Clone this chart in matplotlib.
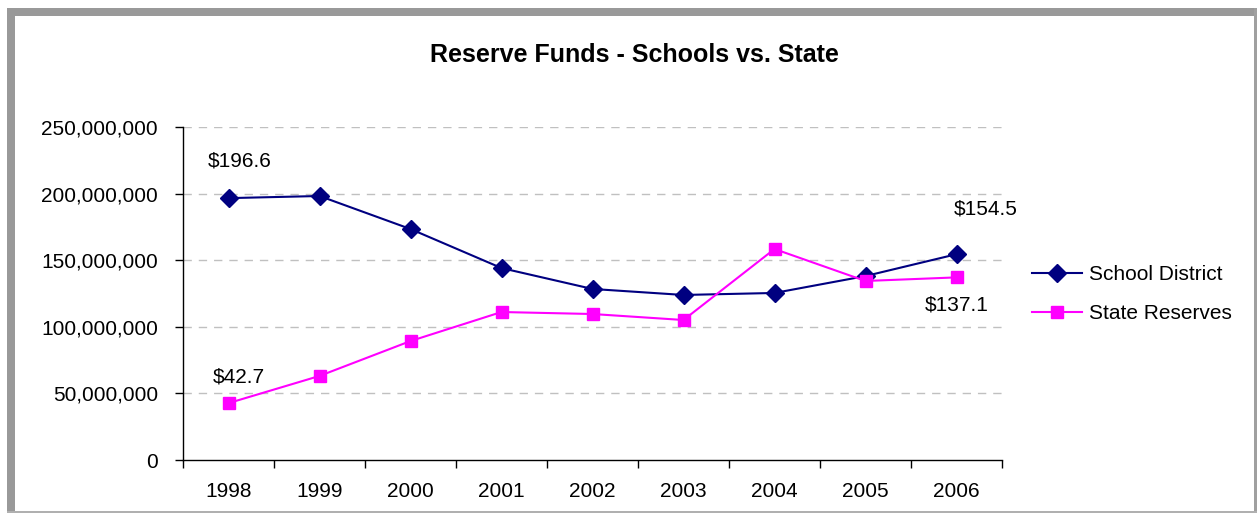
import matplotlib
matplotlib.use("Agg")
import matplotlib.pyplot as plt
from matplotlib.patches import Rectangle
from matplotlib.ticker import FuncFormatter, MultipleLocator

plt.rcParams['font.family'] = ['Liberation Sans', 'DejaVu Sans']

years = ['1998', '1999', '2000', '2001', '2002', '2003', '2004', '2005', '2006']
school_district = [196.6, 198.2, 173.4, 144.1, 128.4, 123.9, 125.4, 138.1, 154.5]  # $ millions
state_reserves = [42.7, 63.1, 89.3, 111.1, 109.6, 105.1, 158.4, 134.4, 137.1]      # $ millions

W, H = 1257, 513
fig = plt.figure(figsize=(W / 100, H / 100), dpi=100)
fig.patch.set_facecolor('white')

# outer frame: heavy top/left edge, thin right/bottom edge
def px_rect(x0, y0, x1, y1, color):
    fig.patches.append(Rectangle((x0 / W, 1 - y1 / H), (x1 - x0) / W, (y1 - y0) / H,
                                 transform=fig.transFigure, facecolor=color,
                                 edgecolor='none', zorder=0))

px_rect(7, 8, 1257, 16, '#999999')
px_rect(7, 8, 15, 513, '#999999')
px_rect(1254, 8, 1257, 513, '#a0a0a0')
px_rect(7, 511, 1257, 513, '#b0b0b0')

ax = fig.add_axes([183 / W, 1 - 460 / H, (1002 - 183) / W, (460 - 127) / H])

x = list(range(len(years)))
sd = [v * 1e6 for v in school_district]
sr = [v * 1e6 for v in state_reserves]

ax.plot(x, sd, color='#000080', lw=1.5, marker='D', ms=9, label='School District', zorder=3)
ax.plot(x, sr, color='#ff00ff', lw=1.5, marker='s', ms=8, label='State Reserves', zorder=3)

FS = 15
ax.set_xlim(-0.5, len(years) - 0.5)
ax.set_ylim(0, 250e6)
ax.yaxis.set_major_locator(MultipleLocator(50e6))
ax.yaxis.set_major_formatter(FuncFormatter(lambda v, p: f"{int(round(v)):,}"))
ax.set_xticks(x)
ax.set_xticklabels(years)
ax.tick_params(axis='x', which='major', length=0, pad=16, labelsize=FS)
ax.set_xticks([i - 0.5 for i in range(len(years) + 1)], minor=True)
ax.tick_params(axis='x', which='minor', length=6, width=1, direction='out')
ax.tick_params(axis='y', length=6, width=1, direction='out', pad=12, labelsize=FS)

for v in range(50, 251, 50):
    ax.axhline(v * 1e6, color='#c0c0c0', lw=1, ls=(0, (6, 5)), zorder=1)

for s in ['top', 'right']:
    ax.spines[s].set_visible(False)
for s in ['left', 'bottom']:
    ax.spines[s].set_color('black')
    ax.spines[s].set_linewidth(1)

# data labels for first and last points
ax.annotate(f"${school_district[0]:.1f}", (x[0], sd[0]), xytext=(11, 37),
            textcoords='offset pixels', ha='center', va='center', fontsize=FS)
ax.annotate(f"${state_reserves[0]:.1f}", (x[0], sr[0]), xytext=(10, 26),
            textcoords='offset pixels', ha='center', va='center', fontsize=FS)
ax.annotate(f"${school_district[-1]:.1f}", (x[-1], sd[-1]), xytext=(29, 45),
            textcoords='offset pixels', ha='center', va='center', fontsize=FS)
ax.annotate(f"${state_reserves[-1]:.1f}", (x[-1], sr[-1]), xytext=(0, -28),
            textcoords='offset pixels', ha='center', va='center', fontsize=FS)

fig.text(634 / W, 1 - 55 / H, 'Reserve Funds - Schools vs. State', ha='center', va='center',
         fontsize=18, fontweight='bold')

fig.legend(loc='center left', bbox_to_anchor=(1022 / W, 1 - 294 / H), frameon=False,
           fontsize=FS, handlelength=2.4, handletextpad=0.3, labelspacing=0.95,
           borderpad=0)

fig.savefig('out.png', dpi=100, facecolor='white')
